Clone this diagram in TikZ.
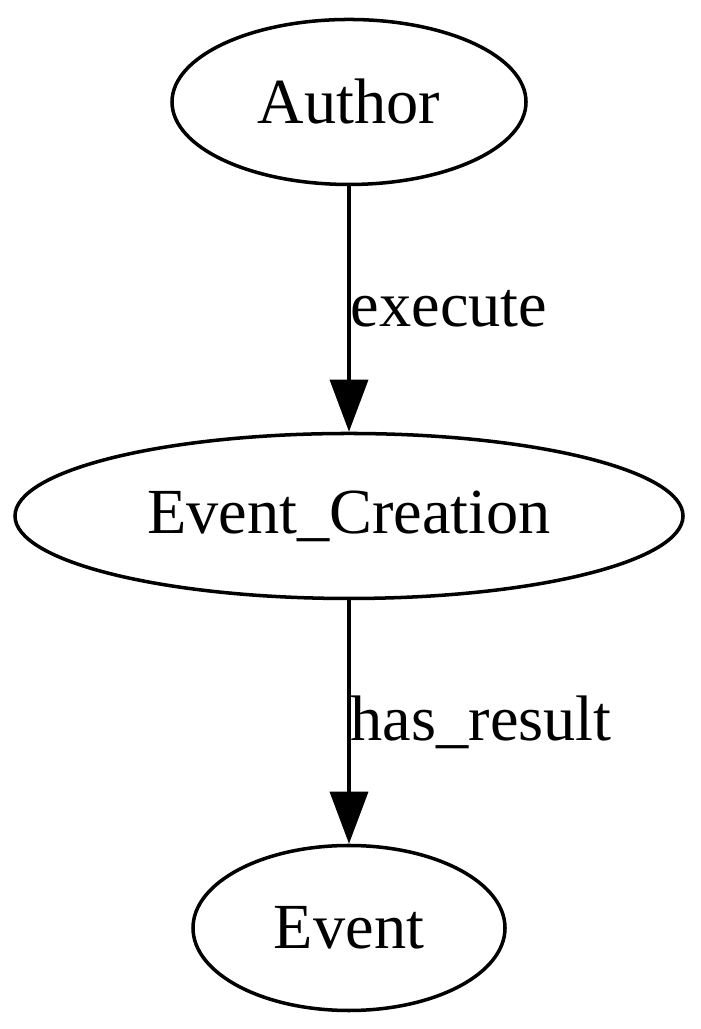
\documentclass[tikz,border=0pt]{standalone}
\usepackage{fontspec}
\setmainfont{Liberation Serif}
\usetikzlibrary{arrows.meta,shapes.geometric}
\begin{document}
\begin{tikzpicture}[line width=1pt,
  every node/.style={font=\fontsize{18.3}{22}\selectfont},
  entity/.style={draw=black, ellipse, inner sep=0pt, minimum height=1.65cm},
  rel/.style={-{Triangle[length=0.52cm, width=0.38cm]}},
  rellabel/.style={midway, anchor=west, inner sep=0pt}]
  \useasboundingbox (0,0) rectangle (7.0,10.29);
  % nodes
  \node[entity, minimum width=3.54cm] (author) at (3.49,9.27) {Author};
  \node[entity, minimum width=6.68cm] (creation) at (3.49,5.13) {Event\_Creation};
  \node[entity, minimum width=3.12cm] (event) at (3.49,1.01) {Event};
  % edges
  \draw[rel] (author) -- (creation) node[rellabel] {execute};
  \draw[rel] (creation) -- (event) node[rellabel] {has\_result};
\end{tikzpicture}
\end{document}
